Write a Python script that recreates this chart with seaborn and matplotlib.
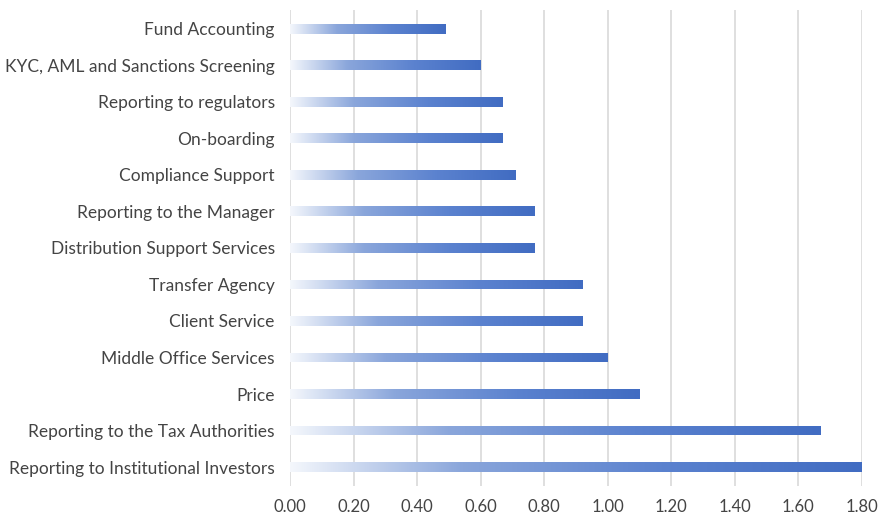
import numpy as np
import pandas as pd
import matplotlib
matplotlib.use("Agg")
import matplotlib.pyplot as plt
from matplotlib.colors import LinearSegmentedColormap
import seaborn as sns

categories = [
    "Fund Accounting",
    "KYC, AML and Sanctions Screening",
    "Reporting to regulators",
    "On-boarding",
    "Compliance Support",
    "Reporting to the Manager",
    "Distribution Support Services",
    "Transfer Agency",
    "Client Service",
    "Middle Office Services",
    "Price",
    "Reporting to the Tax Authorities",
    "Reporting to Institutional Investors",
]
scores = [0.49, 0.60, 0.67, 0.67, 0.71, 0.77, 0.77, 0.92, 0.92, 1.00, 1.10, 1.67, 1.80]
xticks = [0.0, 0.2, 0.4, 0.6, 0.8, 1.0, 1.2, 1.4, 1.6, 1.8]

df = pd.DataFrame({"category": categories, "score": scores})

sns.set_theme(style="white")
plt.rcParams["font.family"] = ["Lato", "DejaVu Sans"]

fig = plt.figure(figsize=(8.95, 5.16), dpi=100)
ax = fig.add_axes([0.324, 0.058, 0.639, 0.923])

sns.barplot(data=df, x="score", y="category", orient="h", width=0.27,
            color="#4472C4", ax=ax, zorder=3)

ax.set_xlim(0, 1.8)
ax.set_ylim(12.52, -0.52)

# horizontal fade: pale on the left, solid blue toward the end of each bar
grad = LinearSegmentedColormap.from_list(
    "fade", [(0.0, "#f4f7fc"), (0.3, "#8aa6db"), (0.65, "#5b82cf"), (1.0, "#416cc2")])
ramp = np.linspace(0, 1, 256).reshape(1, -1)
for patch in list(ax.patches):
    x0, y0 = patch.get_x(), patch.get_y()
    w, h = patch.get_width(), patch.get_height()
    patch.set_facecolor("none")
    patch.set_edgecolor("none")
    img = ax.imshow(ramp, cmap=grad, aspect="auto",
                    extent=[x0, x0 + w, y0 + h, y0], zorder=3,
                    interpolation="bilinear")
    img.set_clip_path(patch)

ax.set_xlim(0, 1.8)
ax.set_ylim(12.52, -0.52)
ax.set_xticks(xticks)
ax.set_xticklabels([f"{t:.2f}" for t in xticks])
ax.grid(axis="x", color="#d6d6d6", linewidth=1.1, zorder=0)
ax.grid(axis="y", visible=False)
for s in ax.spines.values():
    s.set_visible(False)
ax.set_xlabel("")
ax.set_ylabel("")
ax.tick_params(axis="both", length=0, colors="#444444")
ax.tick_params(axis="y", pad=11, labelsize=12.5)
ax.tick_params(axis="x", pad=9, labelsize=12)

fig.savefig("out.png", dpi=100, facecolor="white")
